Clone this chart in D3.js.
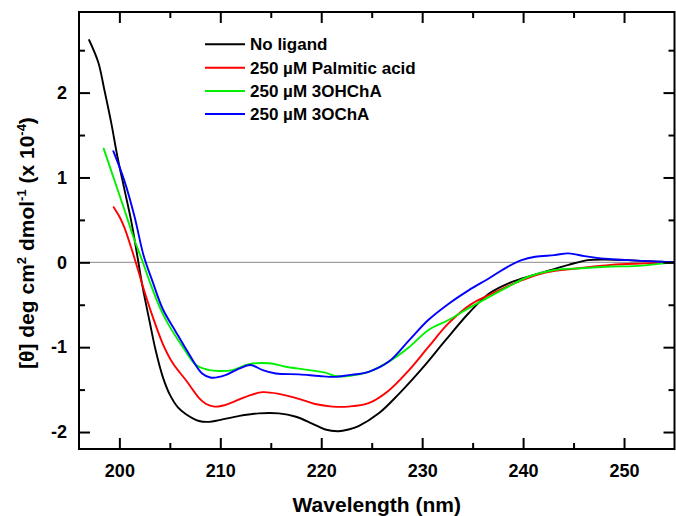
<!DOCTYPE html>
<html>
<head>
<meta charset="utf-8">
<script src="https://cdn.jsdelivr.net/npm/d3@7"></script>
<style>
  html, body { margin: 0; padding: 0; background: #fff; }
  svg { display: block; }
  text { font-family: "Liberation Sans", Arial, sans-serif; font-weight: bold; fill: #000; }
</style>
</head>
<body>
<svg id="chart" width="676" height="516"></svg>
<script>
// ---- Data ----
const seriesNames = ["No ligand", "250 \u00b5M Palmitic acid", "250 \u00b5M 3OHChA", "250 \u00b5M 3OChA"];
const seriesColors = ["#000000", "#ff0000", "#00f000", "#0000ff"];

const blackWl  = [197.0,197.9,198.5,199.2,199.8,200.5,201.2,201.8,202.3,203.0,203.6,204.3,205.0,205.8,206.6,207.9,208.9,209.9,211.9,213.8,215.8,217.5,219.1,220.4,221.7,222.7,223.7,225.7,227.7,230.0,232.3,234.6,236.6,238.5,239.9,242.2,244.5,246.4,248.1,250.4,253.7,255.0];
const blackVal = [2.62,2.36,2.04,1.64,1.25,0.86,0.47,0.06,-0.29,-0.70,-1.04,-1.35,-1.56,-1.71,-1.79,-1.87,-1.88,-1.86,-1.81,-1.78,-1.78,-1.82,-1.90,-1.97,-1.99,-1.97,-1.93,-1.78,-1.55,-1.25,-0.92,-0.60,-0.37,-0.25,-0.19,-0.11,-0.03,0.026,0.034,0.026,0.006,0.0];

const redWl  = [199.44,200.0,200.5,201.15,201.8,202.5,203.3,204.3,205.3,206.6,207.9,208.6,209.4,210.2,211.2,212.85,214.2,215.8,217.8,219.4,221.1,222.7,224.7,226.7,228.7,230.6,232.6,234.9,236.9,239.9,242.2,245.5,248.7,252.0,255.0];
const redVal = [0.65,0.54,0.41,0.18,-0.07,-0.35,-0.64,-0.96,-1.19,-1.39,-1.60,-1.67,-1.70,-1.69,-1.65,-1.57,-1.53,-1.55,-1.61,-1.67,-1.70,-1.70,-1.66,-1.51,-1.27,-1.00,-0.72,-0.49,-0.37,-0.21,-0.12,-0.07,-0.03,-0.013,0.0];

const greenWl  = [198.45,199.5,200.5,201.5,202.3,203.1,204.0,204.9,206.3,207.6,208.9,209.9,211.2,212.85,214.8,216.5,218.8,220.4,221.4,222.7,224.7,226.7,228.7,230.6,232.6,234.6,236.6,238.5,240.5,243.1,245.8,248.7,251.0,253.7,255.0];
const greenVal = [1.34,0.97,0.62,0.26,0.01,-0.26,-0.53,-0.74,-1.00,-1.21,-1.27,-1.28,-1.27,-1.20,-1.19,-1.23,-1.27,-1.30,-1.34,-1.34,-1.29,-1.17,-1.00,-0.80,-0.68,-0.54,-0.41,-0.29,-0.17,-0.09,-0.07,-0.05,-0.045,-0.015,0.0];

const blueWl  = [199.4,200.5,201.5,202.4,203.3,204.3,205.6,206.9,208.2,209.1,210.5,211.9,213.0,214.2,215.5,217.8,219.8,221.4,222.7,224.7,226.7,228.7,230.6,232.6,234.6,236.6,238.5,239.85,241.2,243.1,244.5,246.1,247.7,250.4,253.7,255.0];
const blueVal = [1.31,0.96,0.54,0.08,-0.23,-0.55,-0.82,-1.08,-1.31,-1.36,-1.33,-1.25,-1.21,-1.27,-1.31,-1.32,-1.34,-1.35,-1.33,-1.29,-1.17,-0.92,-0.68,-0.49,-0.33,-0.19,-0.05,0.026,0.065,0.085,0.105,0.073,0.046,0.026,0.006,0.0];

const xMajorTicks = [200, 210, 220, 230, 240, 250];
const xMinorTicks = [205, 215, 225, 235, 245];
const yMajorTicks = [-2, -1, 0, 1, 2];
const yMinorTicks = [-1.5, -0.5, 0.5, 1.5, 2.5];

const xTitle = "Wavelength (nm)";

// ---- Layout ----
const svg = d3.select("#chart");
const L = 79, R = 674.5, T = 12, B = 449;
const x = d3.scaleLinear().domain([196, 255]).range([L, R]);
const y = d3.scaleLinear().domain([-2.2, 2.95]).range([B, T]);

const series = [
  {name: seriesNames[0], color: seriesColors[0], wl: blackWl, val: blackVal},
  {name: seriesNames[1], color: seriesColors[1], wl: redWl, val: redVal},
  {name: seriesNames[2], color: seriesColors[2], wl: greenWl, val: greenVal},
  {name: seriesNames[3], color: seriesColors[3], wl: blueWl, val: blueVal}
];

svg.append("defs").append("clipPath").attr("id", "clip")
  .append("rect").attr("x", L).attr("y", T).attr("width", R - L).attr("height", B - T);

// zero line
svg.append("line")
  .attr("x1", L).attr("x2", R).attr("y1", y(0)).attr("y2", y(0))
  .attr("stroke", "#8a8a8a").attr("stroke-width", 1);

// curves
const line = d3.line().x(d => x(d[0])).y(d => y(d[1])).curve(d3.curveCatmullRom.alpha(0.5));
const g = svg.append("g").attr("clip-path", "url(#clip)");
series.forEach(s => {
  const pts = s.wl.map((w, i) => [w, s.val[i]]);
  g.append("path").datum(pts).attr("d", line)
    .attr("fill", "none").attr("stroke", s.color).attr("stroke-width", 1.9)
    .attr("stroke-linejoin", "round").attr("stroke-linecap", "round");
});

// axes (ticks inward, mirrored)
const MAJ = 11, MIN = 6;
function axisGroup(axis, tx, ty) {
  const gg = svg.append("g").attr("transform", `translate(${tx},${ty})`).call(axis);
  gg.select(".domain").remove();
  gg.selectAll(".tick line").attr("stroke", "#000").attr("stroke-width", 2);
  return gg;
}
// bottom
const xb = axisGroup(d3.axisBottom(x).tickValues(xMajorTicks).tickSize(-MAJ).tickPadding(16).tickFormat(d3.format("d")), 0, B);
xb.selectAll("text").attr("font-size", 18).attr("dy", 0).attr("y", 28);
axisGroup(d3.axisBottom(x).tickValues(xMinorTicks).tickSize(-MIN).tickFormat(""), 0, B);
// top
axisGroup(d3.axisTop(x).tickValues(xMajorTicks).tickSize(-MAJ).tickFormat(""), 0, T);
axisGroup(d3.axisTop(x).tickValues(xMinorTicks).tickSize(-MIN).tickFormat(""), 0, T);
// left
const yl = axisGroup(d3.axisLeft(y).tickValues(yMajorTicks).tickSize(-MAJ).tickPadding(12).tickFormat(d => d3.format("d")(d).replace("\u2212", "-")), L, 0);
yl.selectAll("text").attr("font-size", 18).attr("x", -12);
axisGroup(d3.axisLeft(y).tickValues(yMinorTicks).tickSize(-MIN).tickFormat(""), L, 0);
// right
axisGroup(d3.axisRight(y).tickValues(yMajorTicks).tickSize(-MAJ).tickFormat(""), R, 0);
axisGroup(d3.axisRight(y).tickValues(yMinorTicks).tickSize(-MIN).tickFormat(""), R, 0);

// frame
svg.append("rect").attr("x", L).attr("y", T).attr("width", R - L).attr("height", B - T)
  .attr("fill", "none").attr("stroke", "#000").attr("stroke-width", 2);

// x title
svg.append("text").attr("x", (L + R) / 2).attr("y", 512).attr("text-anchor", "middle")
  .attr("font-size", 21).text(xTitle);

// y title with superscripts
const yt = svg.append("text").attr("transform", "translate(34,243) rotate(-90)")
  .attr("text-anchor", "middle").attr("font-size", 21);
yt.append("tspan").text("[\u03b8] deg cm");
yt.append("tspan").attr("font-size", 13).attr("dy", -8).text("2");
yt.append("tspan").attr("dy", 8).text(" dmol");
yt.append("tspan").attr("font-size", 13).attr("dy", -8).text("-1");
yt.append("tspan").attr("dy", 8).text(" (x 10");
yt.append("tspan").attr("font-size", 13).attr("dy", -8).text("-4");
yt.append("tspan").attr("dy", 8).text(")");

// legend
const legY = [44.3, 67.7, 91, 114];
series.forEach((s, i) => {
  svg.append("line").attr("x1", 205).attr("x2", 245).attr("y1", legY[i]).attr("y2", legY[i])
    .attr("stroke", s.color).attr("stroke-width", 2);
  svg.append("text").attr("x", 250).attr("y", legY[i] + 6).attr("font-size", 17).text(s.name);
});
</script>
</body>
</html>
